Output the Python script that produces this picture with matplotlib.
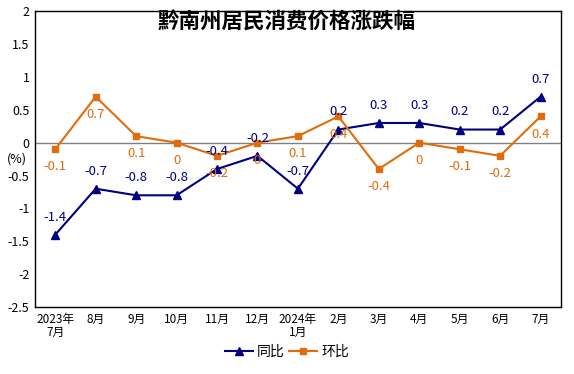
import matplotlib
matplotlib.use("Agg")
import matplotlib.pyplot as plt

plt.rcParams['font.family'] = ['Noto Sans CJK SC', 'DejaVu Sans']

categories = ["2023年\n7月", "8月", "9月", "10月", "11月", "12月", "2024年\n1月",
              "2月", "3月", "4月", "5月", "6月", "7月"]
yoy = [-1.4, -0.7, -0.8, -0.8, -0.4, -0.2, -0.7, 0.2, 0.3, 0.3, 0.2, 0.2, 0.7]
mom = [-0.1, 0.7, 0.1, 0, -0.2, 0, 0.1, 0.4, -0.4, 0, -0.1, -0.2, 0.4]
yticks = [2, 1.5, 1, 0.5, 0, -0.5, -1, -1.5, -2, -2.5]

navy = '#000080'
orange = '#E06C0C'

fig = plt.figure(figsize=(5.74, 3.74), dpi=100)
ax = fig.add_axes([0.061, 0.179, 0.916, 0.791])
x = list(range(len(categories)))

ax.axhline(0, color='#808080', lw=1, zorder=1)
ax.plot(x, yoy, color=navy, lw=1.5, marker='^', ms=6, label='同比', zorder=3)
ax.plot(x, mom, color=orange, lw=1.5, marker='s', ms=5, label='环比', zorder=3)

def fmt(v):
    return '0' if v == 0 else ('%g' % v)

for xi, v in zip(x, yoy):
    ax.annotate(fmt(v), (xi, v), xytext=(0, 8), textcoords='offset points',
                ha='center', va='bottom', color=navy, fontsize=9.5)
for xi, v in zip(x, mom):
    ax.annotate(fmt(v), (xi, v), xytext=(0, -8), textcoords='offset points',
                ha='center', va='top', color=orange, fontsize=9.5)

ax.set_xlim(-0.5, len(categories) - 0.5)
ax.set_ylim(-2.5, 2)
ax.set_yticks(yticks)
ax.set_yticklabels([fmt(v) for v in yticks], fontsize=9)
ax.set_xticks(x)
ax.set_xticklabels(categories, fontsize=8.5, linespacing=1.05)
ax.tick_params(length=0, pad=4)
for s in ax.spines.values():
    s.set_color('black')
    s.set_linewidth(1)

ax.text(-0.053, 0.500, '(%)', transform=ax.transAxes, fontsize=9, ha='left', va='center')
fig.text(0.5, 1 - 22.5 / 374, '黔南州居民消费价格涨跌幅',
         fontsize=15.5, fontweight='bold', ha='center', va='center')

fig.legend(loc='center', bbox_to_anchor=(0.5, 1 - 352 / 374), ncol=2, frameon=False,
           fontsize=10, handlelength=2.0, columnspacing=0.3, handletextpad=0.3,
           borderpad=0, borderaxespad=0)

fig.savefig('out.png', dpi=100)
